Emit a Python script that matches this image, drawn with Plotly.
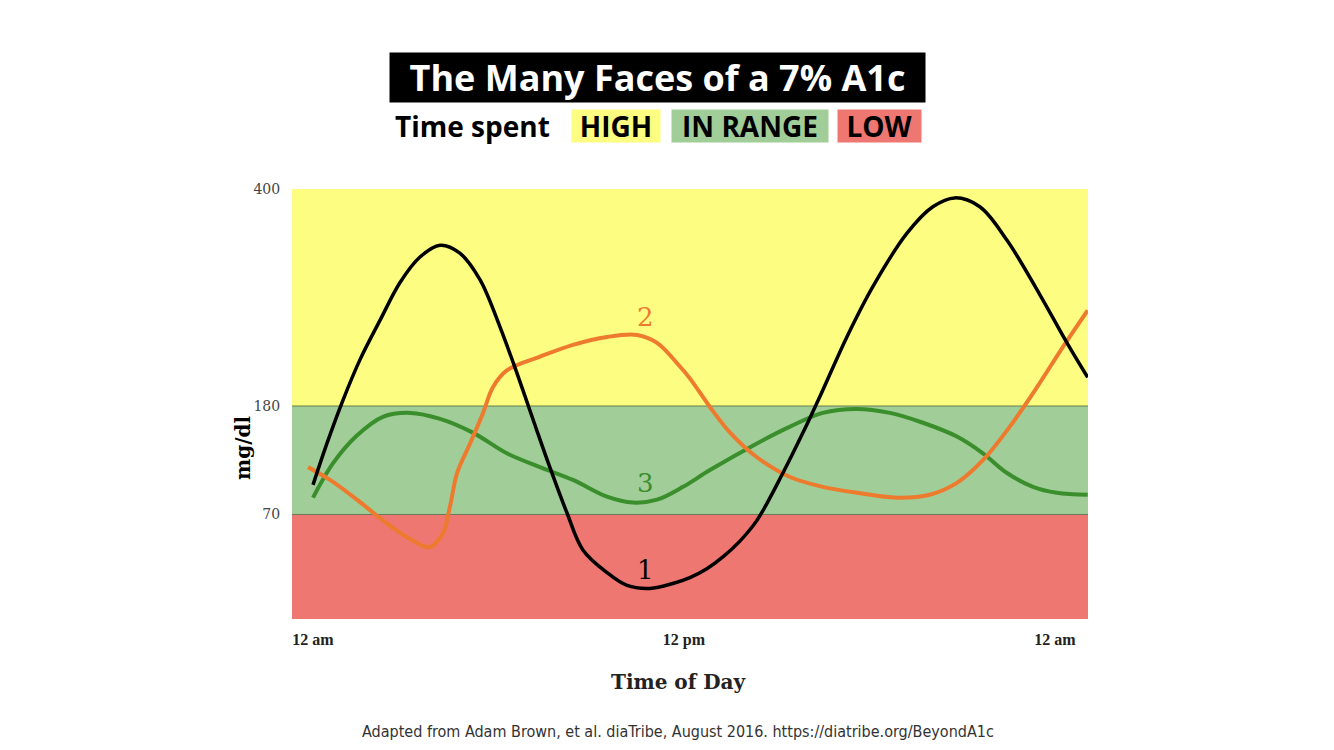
import plotly.graph_objects as go

# hours after midnight (0 = 12 am, 24 = next 12 am)
hours_1 = [0.0, 0.45, 0.97, 1.52, 2.17, 2.81, 3.46, 4.11, 4.75, 5.40, 6.05, 6.60, 7.12,
           7.66, 8.21, 8.73, 9.51, 10.16, 10.90, 11.64, 12.19, 12.74, 13.26, 13.81,
           14.36, 15.20, 15.85, 16.49, 17.27, 18.11, 19.21, 20.05, 20.76, 21.57,
           22.45, 23.51, 24.39, 25.06]
glucose_1 = [100, 142, 186, 227, 267, 305, 331, 343, 335, 308, 260, 213, 166,
             118, 72, 34, 11, -2, -5, 0, 6, 15, 27, 43,
             64, 112, 153, 196, 250, 301, 355, 382, 391, 382,
             348, 293, 244, 209]

hours_2 = [-0.16, 0.55, 1.42, 2.26, 3.04, 3.78, 4.20, 4.43, 4.66, 5.08, 5.50, 5.82,
           6.27, 7.34, 8.41, 9.51, 10.48, 11.13, 11.87, 12.19, 12.84, 13.49, 14.36,
           15.43, 16.49, 17.59, 18.89, 19.95, 20.83, 21.67, 22.54, 23.42, 24.26, 25.06]
glucose_2 = [118, 105, 85, 64, 47, 37, 51, 78, 112, 142, 173, 199,
             216, 230, 242, 250, 252, 244, 220, 208, 179, 153, 128,
             108, 98, 92, 87, 90, 102, 125, 159, 199, 240, 277]

hours_3 = [0.0, 0.65, 1.42, 2.26, 3.14, 4.11, 5.17, 6.27, 7.34, 8.41, 9.51, 10.35,
           11.13, 11.97, 12.84, 14.36, 15.43, 16.49, 17.59, 18.66, 19.73, 20.83,
           21.67, 22.45, 23.29, 24.06, 25.06]
glucose_3 = [87, 122, 150, 169, 173, 167, 153, 132, 118, 105, 88, 82,
             85, 98, 115, 142, 159, 173, 177, 173, 163, 149,
             132, 112, 98, 92, 90]

# target bands (mg/dl)
band_edges = [-36, 70, 180, 400]
band_names = ["LOW", "IN RANGE", "HIGH"]
band_colors = ["#EE7772", "#A0CD98", "#FDFD82"]

y_ticks = [70, 180, 400]
x_ticks = [0, 12, 24]
x_tick_text = ["12 am", "12 pm", "12 am"]

# page has an 8px body margin; plot area sits at x 292-1088, y 189-619 on screen
PAD = 8
W, H = 1334 - 2 * PAD, 750 - 2 * PAD
L, R, T, B = 292, 1088, 189, 619


def px_x(px):
    return (px - L) / (R - L)


def px_y(py):
    return (B - py) / (B - T)


fig = go.Figure()

for i, name in enumerate(band_names):
    fig.add_shape(type="rect", xref="paper", yref="y", x0=0, x1=1,
                  y0=band_edges[i], y1=band_edges[i + 1],
                  fillcolor=band_colors[i], line_width=0, layer="below")
for edge in [70, 180]:
    fig.add_shape(type="line", xref="paper", yref="y", x0=0, x1=1, y0=edge, y1=edge,
                  line=dict(color="rgba(70,95,60,0.75)", width=1), layer="below")

fig.add_trace(go.Scatter(x=hours_3, y=glucose_3, mode="lines", name="3",
                         line=dict(color="#3A8E2B", width=4, shape="spline", smoothing=1)))
fig.add_trace(go.Scatter(x=hours_2, y=glucose_2, mode="lines", name="2",
                         line=dict(color="#EE7A2E", width=4, shape="spline", smoothing=1)))
fig.add_trace(go.Scatter(x=hours_1, y=glucose_1, mode="lines", name="1",
                         line=dict(color="black", width=3.5, shape="spline", smoothing=1)))

serif = "DejaVu Serif"
for label, yv, col in [("2", 270, "#EE7A2E"), ("3", 102, "#3A8E2B"), ("1", 14, "black")]:
    fig.add_annotation(x=10.74, y=yv, text=label, showarrow=False,
                       font=dict(family=serif, size=26, color=col))


def note(cx, cy, text, font, **kw):
    fig.add_annotation(xref="paper", yref="paper", x=px_x(cx), y=px_y(cy),
                       xanchor="center", yanchor="middle", text=text,
                       showarrow=False, font=font, **kw)


# title box and band key
sans = "Open Sans"
note(657.5, 77.5, "<b>The Many Faces of a 7% A1c</b>",
     dict(family=sans, size=36, color="white"),
     bgcolor="black", width=535, height=49, borderpad=0)
note(472, 126, "<b>Time spent</b>", dict(family=sans, size=28, color="black"))
for text, cx, w, col in [("HIGH", 616, 88, band_colors[2]),
                         ("IN RANGE", 750, 156, band_colors[1]),
                         ("LOW", 879.5, 83, band_colors[0])]:
    note(cx, 126, "<b>" + text + "</b>", dict(family=sans, size=28, color="black"),
         bgcolor=col, width=w, height=32, borderpad=0)

note(243, 448, "<b>mg/dl</b>", dict(family=serif, size=20, color="black"), textangle=-90)
note(679, 682, "<b>Time of Day</b>", dict(family=serif, size=20, color="#222"))
note(678, 731, "Adapted from Adam Brown, et al. diaTribe, August 2016. https://diatribe.org/BeyondA1c",
     dict(family="Liberation Sans Narrow, DejaVu Sans Condensed, Roboto", size=16, color="#333"))

fig.update_layout(
    width=W, height=H,
    margin=dict(l=L - PAD, r=W - (R - PAD), t=T - PAD, b=H - (B - PAD)),
    plot_bgcolor="white", paper_bgcolor="white",
    showlegend=False,
    xaxis=dict(range=[-0.68, 25.07], tickvals=x_ticks, ticktext=["<b>" + t + "</b>" for t in x_tick_text],
               showgrid=False, zeroline=False, showline=False,
               ticks="outside", ticklen=6, tickcolor="rgba(0,0,0,0)",
               tickfont=dict(family="Liberation Serif", size=16, color="#222")),
    yaxis=dict(range=[band_edges[0], band_edges[-1]], tickvals=y_ticks,
               showgrid=False, zeroline=False, showline=False,
               ticks="outside", ticklen=8, tickcolor="rgba(0,0,0,0)",
               tickfont=dict(family=serif, size=14, color="#444")),
)

fig.write_html("out.html")
